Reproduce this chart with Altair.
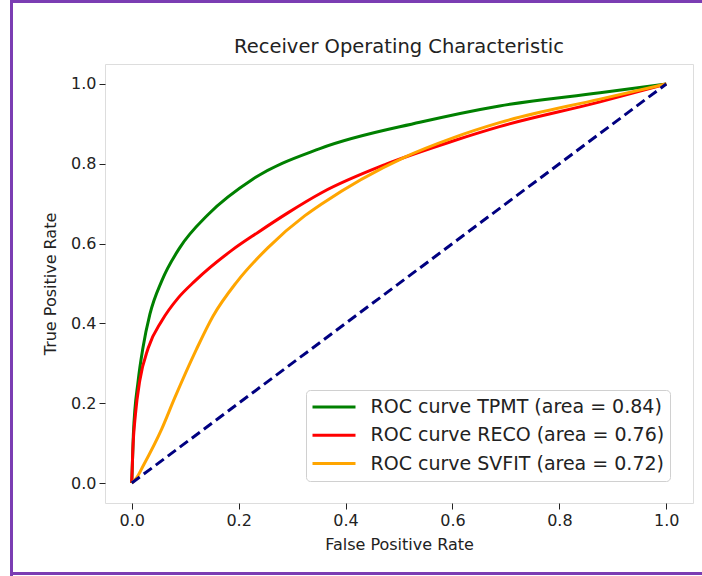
import altair as alt
import pandas as pd

# ---------------- data ----------------
series_names = ["TPMT", "RECO", "SVFIT"]
series_areas = [0.84, 0.76, 0.72]
series_colors = ["#008000", "#ff0000", "#ffa500"]

tpmt_fpr = [0.0, 0.003, 0.012, 0.021, 0.034, 0.056, 0.090, 0.143, 0.227, 0.352, 0.539, 0.688, 0.876, 1.0]
tpmt_tpr = [0.0, 0.120, 0.256, 0.339, 0.423, 0.506, 0.590, 0.673, 0.762, 0.838, 0.904, 0.945, 0.978, 1.0]

reco_fpr = [0.0, 0.002, 0.007, 0.015, 0.031, 0.056, 0.087, 0.118, 0.187, 0.236, 0.292, 0.356, 0.476, 0.601, 0.688, 0.876, 1.0]
reco_tpr = [0.0, 0.080, 0.173, 0.256, 0.339, 0.406, 0.464, 0.506, 0.583, 0.628, 0.677, 0.728, 0.799, 0.857, 0.893, 0.955, 1.0]

svfit_fpr = [0.0, 0.009, 0.021, 0.056, 0.080, 0.121, 0.152, 0.196, 0.255, 0.324, 0.356, 0.508, 0.601, 0.688, 0.876, 1.0]
svfit_tpr = [0.0, 0.013, 0.042, 0.135, 0.212, 0.335, 0.418, 0.503, 0.590, 0.670, 0.700, 0.815, 0.865, 0.903, 0.962, 1.0]

chance_fpr = [0.0, 1.0]
chance_tpr = [0.0, 1.0]

tick_values = [0.0, 0.2, 0.4, 0.6, 0.8, 1.0]
chart_title = "Receiver Operating Characteristic"

# ---------------- tables ----------------
labels = [f"ROC curve {n} (area = {a:.2f})" for n, a in zip(series_names, series_areas)]
rows = []
for lab, fpr, tpr in zip(labels, [tpmt_fpr, reco_fpr, svfit_fpr], [tpmt_tpr, reco_tpr, svfit_tpr]):
    for i, (x, y) in enumerate(zip(fpr, tpr)):
        rows.append({"series": lab, "fpr": x, "tpr": y, "i": i})
df = pd.DataFrame(rows)
chance = pd.DataFrame({"fpr": chance_fpr, "tpr": chance_tpr})
title_df = pd.DataFrame({"t": [chart_title]})

FONT = "DejaVu Sans"
INK = "#222222"

x_scale = alt.Scale(domain=[-0.05, 1.05], nice=False, zero=False)
y_scale = alt.Scale(domain=[-0.05, 1.05], nice=False, zero=False)

x_axis = alt.Axis(values=tick_values, format=".1f", grid=False, domain=False,
                  tickColor=INK, tickSize=6, tickWidth=1, labelPadding=3,
                  labelFont=FONT, labelFontSize=16, labelColor=INK,
                  titleFont=FONT, titleFontSize=16, titleFontWeight="normal",
                  titleColor=INK, titlePadding=8)
y_axis = alt.Axis(values=tick_values, format=".1f", grid=False, domain=False,
                  tickColor=INK, tickSize=6, tickWidth=1, labelPadding=3,
                  labelFont=FONT, labelFontSize=16, labelColor=INK,
                  titleFont=FONT, titleFontSize=16, titleFontWeight="normal",
                  titleColor=INK, titlePadding=12)

curves = alt.Chart(df).mark_line(strokeWidth=3, interpolate="monotone").encode(
    x=alt.X("fpr:Q", scale=x_scale, axis=x_axis, title="False Positive Rate"),
    y=alt.Y("tpr:Q", scale=y_scale, axis=y_axis, title="True Positive Rate"),
    color=alt.Color(
        "series:N",
        scale=alt.Scale(domain=labels, range=series_colors),
        sort=labels,
        legend=alt.Legend(
            title=None, orient="none", legendX=201, legendY=326,
            symbolType="stroke", symbolSize=1849, symbolStrokeWidth=3,
            clipHeight=24, rowPadding=4.3, labelOffset=13.5,
            labelFont=FONT, labelFontSize=19, labelColor=INK,
            padding=5, strokeColor="#d0d0d0", fillColor="#ffffff",
            cornerRadius=4, labelLimit=400,
        ),
    ),
    order=alt.Order("i:Q"),
)

diag = alt.Chart(chance).mark_line(color="#000080", strokeWidth=3, strokeDash=[10, 5]).encode(
    x=alt.X("fpr:Q", scale=x_scale),
    y=alt.Y("tpr:Q", scale=y_scale),
)

title_mark = alt.Chart(title_df).mark_text(
    font=FONT, fontSize=19.5, color=INK, align="center", baseline="alphabetic"
).encode(text="t:N", x=alt.value(294), y=alt.value(-11))

# purple screenshot frame (decoration)
PURPLE = "#7b3db3"
frame_left = alt.Chart(chance).mark_rule(color=PURPLE, strokeWidth=3).encode(
    x=alt.value(-93.5), y=alt.value(-64), y2=alt.value(512))
frame_top = alt.Chart(chance).mark_rule(color=PURPLE, strokeWidth=3).encode(
    x=alt.value(-95), x2=alt.value(597), y=alt.value(-62.5))
frame_bottom = alt.Chart(chance).mark_rule(color=PURPLE, strokeWidth=3).encode(
    x=alt.value(-95), x2=alt.value(597), y=alt.value(509.5))

chart = alt.layer(curves, diag, title_mark, frame_left, frame_top, frame_bottom).properties(
    width=588, height=439,
    autosize=alt.AutoSizeParams(type="none"),
    padding={"left": 105, "top": 64, "right": 9, "bottom": 73},
).configure_view(stroke=INK, strokeWidth=1).configure(background="white")

chart.save("out.html", embed_options={"renderer": "svg", "actions": False})
